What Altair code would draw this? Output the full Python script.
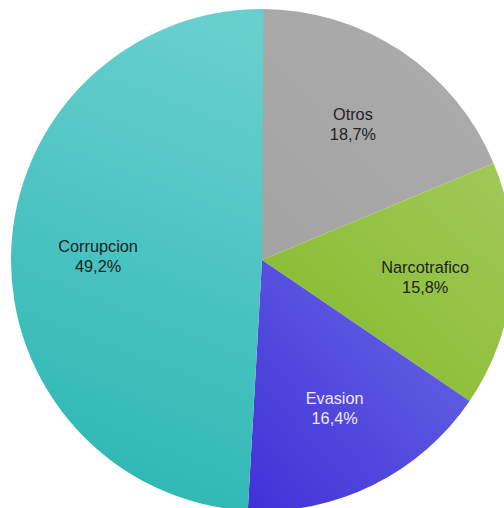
import altair as alt
import pandas as pd

categories = ["Otros", "Narcotrafico", "Evasion", "Corrupcion"]
values = [18.7, 15.8, 16.4, 49.2]
labels = ["18,7%", "15,8%", "16,4%", "49,2%"]

# gradient colours per slice: (light end, dark end, x1, y1, x2, y2)
grad = {
    "Otros": ("#adadad", "#a3a3a3", 1, 0, 0, 1),
    "Narcotrafico": ("#a2c95a", "#83b927", 1, 0, 0, 1),
    "Evasion": ("#686ae4", "#4131d8", 1, 0, 0, 1),
    "Corrupcion": ("#68cfcf", "#2cb7b3", 0.6, 0, 0.4, 1),
}
text_colors = {"Otros": "#222222", "Narcotrafico": "#222222",
               "Evasion": "#ececf8", "Corrupcion": "#222222"}

df = pd.DataFrame({"cat": categories, "val": values, "pct": labels,
                   "order": list(range(len(categories)))})
df["end"] = df["val"].cumsum()
df["start"] = df["end"] - df["val"]
df["mid"] = (df["start"] + df["end"]) / 2
df["tcolor"] = [text_colors[c] for c in categories]

CX, CY, R, LR = 262, 260, 251, 164
tscale = alt.Scale(domain=[0, 100], range=[0, 6.283185307179586])

base = alt.Chart(df)
layers = []
for c in categories:
    light, dark, x1, y1, x2, y2 = grad[c]
    g = alt.Gradient(
        gradient="linear",
        stops=[alt.GradientStop(color=light, offset=0),
               alt.GradientStop(color=dark, offset=1)],
        x1=x1, y1=y1, x2=x2, y2=y2,
    )
    layers.append(
        base.transform_filter(alt.datum.cat == c)
        .mark_arc(fill=g, radius=R, strokeWidth=0)
        .encode(
            theta=alt.Theta("start:Q", scale=tscale),
            theta2=alt.Theta2("end:Q"),
            x=alt.value(CX), y=alt.value(CY),
        )
    )

name_text = base.mark_text(radius=LR, fontSize=16.3, font="Liberation Sans",
                           dy=-8, baseline="middle").encode(
    theta=alt.Theta("mid:Q", scale=tscale),
    x=alt.value(CX), y=alt.value(CY),
    text="cat:N",
    color=alt.Color("tcolor:N", scale=None),
)
pct_text = base.mark_text(radius=LR, fontSize=16.3, font="Liberation Sans",
                          dy=12, baseline="middle").encode(
    theta=alt.Theta("mid:Q", scale=tscale),
    x=alt.value(CX), y=alt.value(CY),
    text="pct:N",
    color=alt.Color("tcolor:N", scale=None),
)

chart = alt.layer(*layers, name_text, pct_text).properties(
    width=504, height=508, padding=0,
    autosize=alt.AutoSizeParams(type="none"),
).configure_view(stroke=None)

chart.save("out.html", embed_options={"renderer": "svg", "actions": False})
